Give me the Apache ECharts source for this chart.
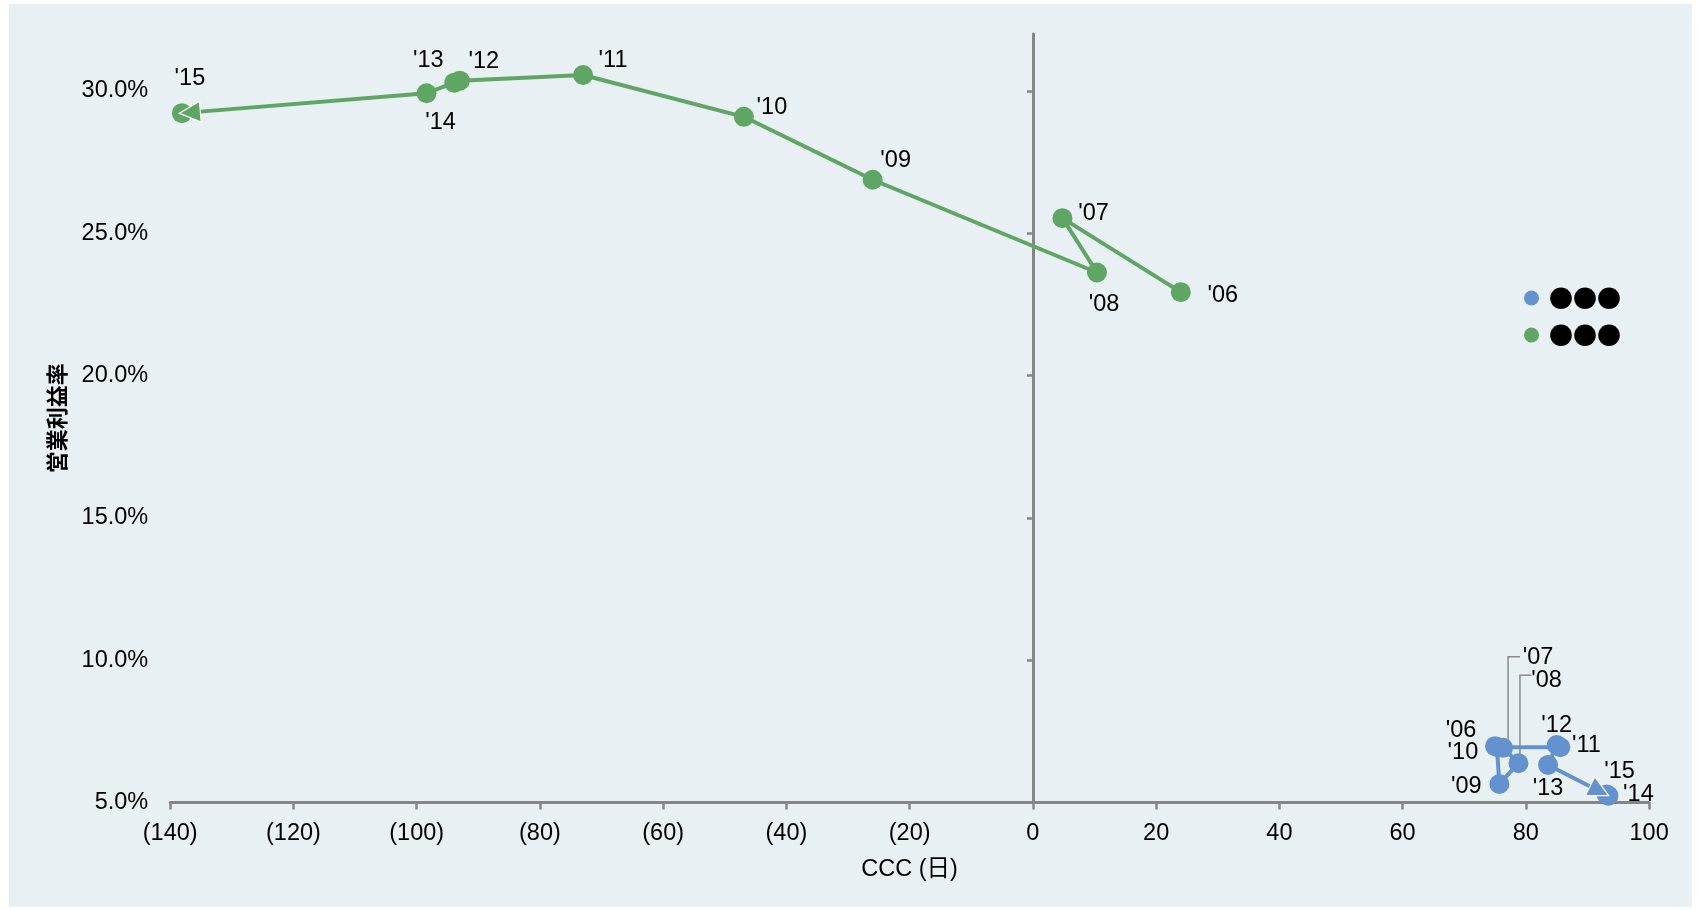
<!DOCTYPE html>
<html>
<head>
<meta charset="utf-8">
<script src="https://cdn.jsdelivr.net/npm/echarts@6/dist/echarts.min.js"></script>
<style>
html,body{margin:0;padding:0;background:#fff;}
#chart{width:1700px;height:910px;}
</style>
</head>
<body>
<div id="chart"></div>
<script>
// ---- data ----
const years = ["'06","'07","'08","'09","'10","'11","'12","'13","'14","'15"];
const blueName = '●●●';
const greenName = '●●● ';
const blueX = [75.0, 76.3, 78.8, 75.7, 75.3, 85.6, 85.0, 83.6, 93.4, 93.1];
const blueY = [6.98, 6.92, 6.38, 5.65, 6.95, 6.94, 7.02, 6.32, 5.24, 5.28];
const greenX = [24.0, 4.8, 10.4, -26.0, -46.9, -73.0, -93.0, -93.9, -98.4, -138.1];
const greenY = [22.93, 25.53, 23.62, 26.88, 29.09, 30.56, 30.36, 30.29, 29.92, 29.22];
const xTicks = {min: -140, max: 100, interval: 20};
const yTicks = {min: 5, max: 32, interval: 5};
const xName = 'CCC (日)';
const yName = '営業利益率';

// ---- styles (label offsets in px, relative to point) ----
const blueLabelOffset = [[-34,-18],[35,-93],[28,-85],[-33,0],[-34,3],[26,-4],[0,-22],[0,21],[30,-4],[13,-26]];
const greenLabelOffset = [[42,1],[31,-7],[7,29],[23,-22],[28,-12],[30,-17],[24,-22],[-26,-25],[14,27],[8,-37]];
const LABEL_BASELINE_FIX = 2.5;
const leaderIdx = [1, 2];
const leaderPaths = [[[5,0],[5,-91],[17,-91]], [[1.5,0],[1.5,-88],[13,-88]]];
const BLUE = '#6392CE';
const GREEN = '#5FA563';
const AXIS = '#858585';
const FONT = "'Liberation Sans', Arial, 'Noto Sans CJK JP', sans-serif";
const FS = 23.5;

function pctFmt(v){ return (Math.abs(v % 5) < 1e-9) ? v.toFixed(1) + '%' : ''; }
function xFmt(v){ return v < 0 ? '(' + Math.abs(v) + ')' : String(v); }

function makeData(xs, ys, offs){
  return xs.map((x, i) => ({
    value: [x, ys[i]],
    label: { offset: [offs[i][0], offs[i][1] + LABEL_BASELINE_FIX] }
  }));
}

function arrowRender(params, api){
  const which = api.value(2);
  const xs = which === 1 ? greenX : blueX;
  const ys = which === 1 ? greenY : blueY;
  const color = which === 1 ? GREEN : BLUE;
  const n = xs.length;
  const end = api.coord([xs[n-1], ys[n-1]]);
  let prev = api.coord([xs[0], ys[0]]);
  for (let i = n - 2; i >= 0; i--) {
    const p = api.coord([xs[i], ys[i]]);
    if (Math.hypot(p[0]-end[0], p[1]-end[1]) > 15) { prev = p; break; }
  }
  const dx = end[0]-prev[0], dy = end[1]-prev[1];
  const L = Math.hypot(dx, dy) || 1;
  const ux = dx/L, uy = dy/L;
  const tip = [end[0] + ux*2.5, end[1] + uy*2.5];
  const base = [tip[0] - ux*21, tip[1] - uy*21];
  const px = -uy, py = ux, hw = 10.5;
  return {
    type: 'polygon',
    shape: { points: [tip, [base[0]+px*hw, base[1]+py*hw], [base[0]-px*hw, base[1]-py*hw]] },
    style: { fill: color, stroke: '#ffffff', lineWidth: 1.2 }
  };
}

function leaderRender(params, api){
  const p = api.coord([api.value(0), api.value(1)]);
  const path = leaderPaths[api.value(2)];
  return {
    type: 'polyline',
    shape: { points: path.map(q => [p[0]+q[0], p[1]+q[1]]) },
    style: { stroke: '#8a8a8a', lineWidth: 1.5, fill: null }
  };
}

const chart = echarts.init(document.getElementById('chart'), null, {renderer: 'canvas'});
const lineLabel = {
  show: true,
  position: 'inside',
  formatter: p => years[p.dataIndex],
  color: '#000',
  fontSize: FS,
  fontFamily: FONT,
  textBorderWidth: 0,
  align: 'center',
  verticalAlign: 'middle'
};

chart.setOption({
  animation: false,
  backgroundColor: '#ffffff',
  graphic: [{
    type: 'rect', left: 9, top: 4, z: -100, silent: true,
    shape: { width: 1683, height: 903 },
    style: { fill: '#E9F0F4' }
  }],
  grid: { left: 170.2, right: 50.9, top: 34, bottom: 107.5, containLabel: false },
  legend: {
    data: [blueName, greenName],
    orient: 'vertical',
    left: 1524, top: 286,
    padding: 0,
    icon: 'circle',
    itemWidth: 15, itemHeight: 15,
    itemGap: 13,
    textStyle: { color: '#000', fontSize: 24, fontFamily: "'Noto Sans CJK JP', sans-serif", padding: [0, 0, 0, 5] }
  },
  xAxis: {
    type: 'value',
    min: xTicks.min, max: xTicks.max, interval: xTicks.interval,
    name: xName, nameLocation: 'middle', nameGap: 55,
    nameTextStyle: { color: '#000', fontSize: FS, fontFamily: FONT },
    axisLine: { show: true, onZero: false, lineStyle: { color: AXIS, width: 3 } },
    axisTick: { show: true, length: 7, lineStyle: { color: AXIS, width: 2.5 } },
    axisLabel: { formatter: xFmt, color: '#000', fontSize: FS, fontFamily: FONT, margin: 19 },
    splitLine: { show: false }
  },
  yAxis: [{
    type: 'value', position: 'left',
    min: yTicks.min, max: yTicks.max, interval: yTicks.interval,
    name: yName, nameLocation: 'middle', nameGap: 103,
    nameTextStyle: { color: '#000', fontSize: 22, fontWeight: 'bold', fontFamily: "'Noto Sans CJK JP', sans-serif" },
    axisLine: { show: false, onZero: false },
    axisTick: { show: false },
    axisLabel: { formatter: pctFmt, color: '#000', fontSize: FS, fontFamily: FONT, margin: 22, showMaxLabel: false, padding: [5, 0, 0, 0] },
    splitLine: { show: false }
  }, {
    type: 'value', position: 'left',
    min: yTicks.min, max: yTicks.max, interval: yTicks.interval,
    axisLine: { show: true, onZero: true, onZeroAxisIndex: 0, lineStyle: { color: AXIS, width: 3 } },
    axisTick: { show: true, length: 6, lineStyle: { color: AXIS, width: 2.5 },
                customValues: [5, 10, 15, 20, 25, 30] },
    axisLabel: { show: false },
    splitLine: { show: false }
  }],
  series: [{
    name: blueName, type: 'line', z: 3,
    data: makeData(blueX, blueY, blueLabelOffset),
    symbol: 'circle', symbolSize: 20, showSymbol: true,
    lineStyle: { color: BLUE, width: 4 },
    itemStyle: { color: BLUE },
    label: lineLabel,
    emphasis: { disabled: true }
  }, {
    name: greenName, type: 'line', z: 3,
    data: makeData(greenX, greenY, greenLabelOffset),
    symbol: 'circle', symbolSize: 20, showSymbol: true,
    lineStyle: { color: GREEN, width: 4 },
    itemStyle: { color: GREEN },
    label: lineLabel,
    emphasis: { disabled: true }
  }, {
    type: 'custom', z: 1, silent: true,
    renderItem: leaderRender,
    encode: { x: 0, y: 1 },
    data: leaderIdx.map((i, k) => [blueX[i], blueY[i], k])
  }, {
    type: 'custom', z: 4, silent: true,
    renderItem: arrowRender,
    encode: { x: 0, y: 1 },
    data: [[greenX[greenX.length-1], greenY[greenY.length-1], 1], [blueX[blueX.length-1], blueY[blueY.length-1], 0]]
  }]
});
</script>
</body>
</html>
